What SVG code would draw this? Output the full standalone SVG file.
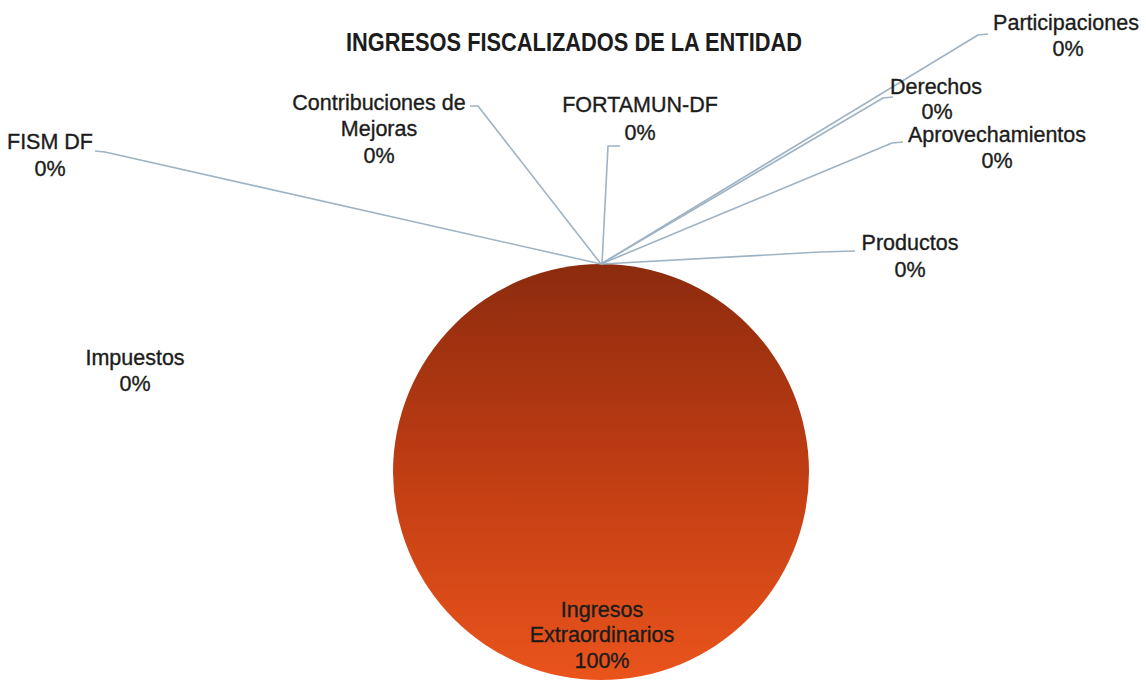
<svg xmlns="http://www.w3.org/2000/svg" width="1146" height="684" viewBox="0 0 1146 684">
  <style>
    .lbl { font-family: "Liberation Sans", Arial, sans-serif; font-size: 21.5px; fill: #1c1c1c; stroke: #1c1c1c; stroke-width: 0.35; text-anchor: middle; }
    .title { font-family: "Liberation Sans", Arial, sans-serif; font-size: 25px; font-weight: bold; fill: #1c1c1c; text-anchor: middle; }
    .lead { fill: none; stroke: #9fb3c3; stroke-width: 1.6; stroke-linejoin: round; }
  </style>
  <defs>
    <linearGradient id="pieGrad" x1="0" y1="0" x2="0" y2="1">
      <stop offset="0" stop-color="#8c2b0e"/>
      <stop offset="0.5" stop-color="#c03d13"/>
      <stop offset="1" stop-color="#ea541c"/>
    </linearGradient>
  </defs>
  <rect width="1146" height="684" fill="#ffffff"/>

  <g id="title">
    <text class="title" x="574" y="51" textLength="456" lengthAdjust="spacingAndGlyphs">INGRESOS FISCALIZADOS DE LA ENTIDAD</text>
  </g>

  <g id="pie">
    <circle cx="601" cy="472" r="208" fill="url(#pieGrad)"/>
  </g>

  <g id="connectors">
    <polyline class="lead" points="95,151 105,152 601,264"/>
    <polyline class="lead" points="470,106 478,106 601,264"/>
    <polyline class="lead" points="620,146 608,146 602,264"/>
    <polyline class="lead" points="988,34 978,35 601,264"/>
    <polyline class="lead" points="893,97 883,98 601,264"/>
    <polyline class="lead" points="903,142 892,143 601,264"/>
    <polyline class="lead" points="602,264 820,252 855,251"/>
  </g>

  <g id="node-fism">
    <text class="lbl" x="50" y="149">FISM DF</text>
    <text class="lbl" x="50" y="176">0%</text>
  </g>
  <g id="node-contribuciones">
    <text class="lbl" x="379" y="110">Contribuciones de</text>
    <text class="lbl" x="379" y="136">Mejoras</text>
    <text class="lbl" x="379" y="163">0%</text>
  </g>
  <g id="node-fortamun">
    <text class="lbl" x="640" y="112">FORTAMUN-DF</text>
    <text class="lbl" x="640" y="140">0%</text>
  </g>
  <g id="node-participaciones">
    <text class="lbl" x="1066" y="30">Participaciones</text>
    <text class="lbl" x="1068" y="56">0%</text>
  </g>
  <g id="node-derechos">
    <text class="lbl" x="936" y="94">Derechos</text>
    <text class="lbl" x="937" y="119">0%</text>
  </g>
  <g id="node-aprovechamientos">
    <text class="lbl" x="997" y="142">Aprovechamientos</text>
    <text class="lbl" x="997" y="168">0%</text>
  </g>
  <g id="node-productos">
    <text class="lbl" x="910" y="250">Productos</text>
    <text class="lbl" x="910" y="277">0%</text>
  </g>
  <g id="node-impuestos">
    <text class="lbl" x="135" y="365">Impuestos</text>
    <text class="lbl" x="135" y="391">0%</text>
  </g>
  <g id="node-extraordinarios">
    <text class="lbl" x="602" y="617">Ingresos</text>
    <text class="lbl" x="602" y="642">Extraordinarios</text>
    <text class="lbl" x="602" y="668">100%</text>
  </g>
</svg>
